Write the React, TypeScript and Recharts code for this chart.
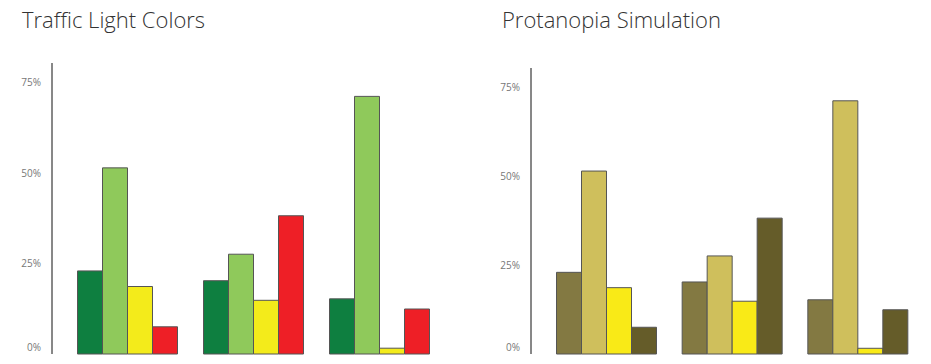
import { BarChart, Bar, XAxis, YAxis } from "recharts";

const groups = ["Group 1", "Group 2", "Group 3"];
const darkGreenValues = [22.9, 20.2, 15.2];
const lightGreenValues = [51.3, 27.5, 71.0];
const yellowValues = [18.6, 14.8, 1.6];
const redValues = [7.5, 38.1, 12.4];
const yTicks = [0, 25, 50, 75];

const trafficColors = ["#0e7f40", "#8fc95b", "#f3eb1b", "#ee1f26"];
const protanopiaColors = ["#837942", "#cfbf5c", "#f9ea17", "#655c29"];

const data = groups.map((name, i) => ({
	name,
	s1: darkGreenValues[i],
	s2: lightGreenValues[i],
	s3: yellowValues[i],
	s4: redValues[i],
}));

const seriesKeys = ["s1", "s2", "s3", "s4"];

function PercentTick(props: any) {
	const { x, y, payload } = props;
	// Tableau lifts the 0% label above the baseline
	const shift = payload.value === 0 ? -7 : 0;
	return (
		<text
			x={x}
			y={y + shift}
			dy={4}
			textAnchor="end"
			fill="#777"
			fontSize={10}
			fontFamily="'Open Sans', sans-serif"
		>
			{`${payload.value}%`}
		</text>
	);
}

interface PanelProps {
	title: string;
	colors: string[];
	left: number;
	width: number;
	axisWidth: number;
	top: number;
	right: number;
	titleLeft: number;
}

function Panel({ title, colors, left, width, axisWidth, top, right, titleLeft }: PanelProps) {
	return (
		<>
			<div
				style={{
					position: "absolute",
					left: titleLeft,
					top: 4,
					fontFamily: "'Open Sans', sans-serif",
					fontWeight: 300,
					fontSize: 22,
					color: "#333",
					whiteSpace: "nowrap",
				}}
			>
				{title}
			</div>
			<div style={{ position: "absolute", left, top: 0 }}>
				<BarChart
					width={width}
					height={364}
					data={data}
					margin={{ top, right, bottom: 10, left: 0 }}
					barCategoryGap={13}
					barGap={0}
				>
					<XAxis
						dataKey="name"
						tick={false}
						tickLine={false}
						height={0}
						padding={{ left: 12.5, right: -12.5 }}
						axisLine={{ stroke: "#111", strokeWidth: 1.5 }}
					/>
					<YAxis
						width={axisWidth}
						domain={[0, 80.2]}
						ticks={yTicks}
						tickLine={false}
						tickMargin={5}
						tick={<PercentTick />}
						axisLine={{ stroke: "#111", strokeWidth: 1 }}
					/>
					{seriesKeys.map((key, i) => (
						<Bar
							key={key}
							dataKey={key}
							fill={colors[i]}
							stroke="#555"
							strokeWidth={1}
							isAnimationActive={false}
						/>
					))}
				</BarChart>
			</div>
		</>
	);
}

export default function App() {
	return (
		<div style={{ position: "absolute", left: 0, top: 0, width: 931, height: 364, background: "#fff" }}>
			<Panel
				title="Traffic Light Colors"
				colors={trafficColors}
				left={0}
				width={465}
				axisWidth={52}
				top={63}
				right={35}
				titleLeft={22}
			/>
			<Panel
				title="Protanopia Simulation"
				colors={protanopiaColors}
				left={465}
				width={466}
				axisWidth={66}
				top={68}
				right={23}
				titleLeft={502}
			/>
		</div>
	);
}
